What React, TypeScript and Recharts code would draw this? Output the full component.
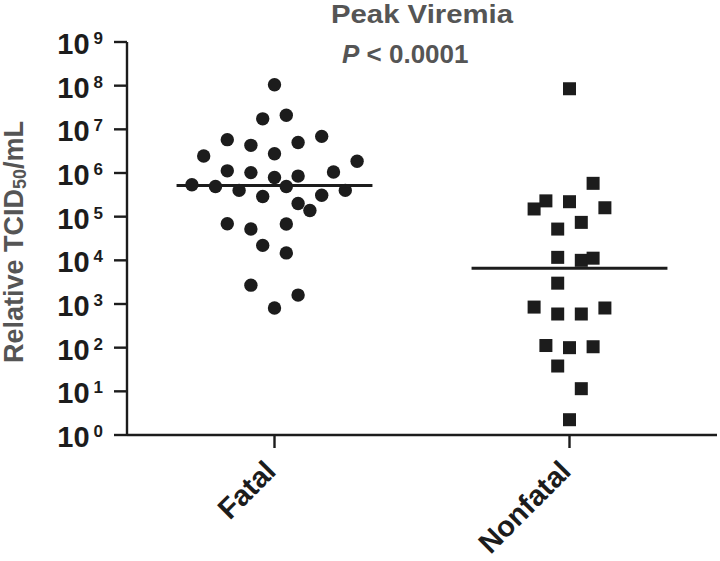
import { ReferenceLine, Scatter, ScatterChart, XAxis, YAxis } from 'recharts';

const groups = ['Fatal', 'Nonfatal'];
const groupPos = [1, 2];

// horizontal jitter (fraction of a category) and titer for each animal
const fatalJitter = [
  0, -0.04, 0.04, -0.16, -0.08, 0.08, 0.16, -0.24, 0, -0.16, -0.08, 0, 0.08, 0.2, 0.28, -0.28,
  -0.2, -0.12, -0.04, 0.04, 0.08, 0.12, 0.16, 0.24, -0.16, -0.08, 0.04, -0.04, 0.04, -0.08, 0.08, 0
];
const fatalTiter = [
  1.05e8, 1.74e7, 2.1e7, 5.8e6, 4.3e6, 5.0e6, 6.9e6, 2.45e6, 2.75e6, 1.12e6, 1.02e6, 7.9e5, 8.5e5, 1.05e6, 1.86e6, 5.4e5,
  4.9e5, 4.0e5, 2.9e5, 4.9e5, 2.0e5, 1.38e5, 3.1e5, 4.0e5, 6.9e4, 5.2e4, 6.8e4, 2.2e4, 1.48e4, 2.7e3, 1.6e3, 8.1e2
];
const nonfatalJitter = [
  0, 0.08, -0.08, -0.12, 0, 0.12, 0.04, -0.04, -0.04, 0.04, 0.08,
  -0.04, -0.12, -0.04, 0.04, 0.12, -0.08, 0, 0.08, -0.04, 0.04, 0
];
const nonfatalTiter = [
  8.5e7, 5.8e5, 2.3e5, 1.5e5, 2.2e5, 1.6e5, 7.4e4, 5.2e4, 1.17e4, 1.0e4, 1.12e4,
  3.0e3, 8.5e2, 5.9e2, 5.9e2, 8.1e2, 112, 100, 105, 38, 11.5, 2.24
];
const medianTiter = [5.2e5, 6.6e3];
const yTicks = [1, 1e1, 1e2, 1e3, 1e4, 1e5, 1e6, 1e7, 1e8, 1e9];

const fatalData = fatalTiter.map((v, i) => ({ x: groupPos[0] + fatalJitter[i], y: v }));
const nonfatalData = nonfatalTiter.map((v, i) => ({ x: groupPos[1] + nonfatalJitter[i], y: v }));

const FONT = '"Liberation Sans", Arial, sans-serif';
const INK = '#1c1c1c';
const GREY = '#555555';
const HALF = 0.332;

const YTick = (props: any) => {
  const { x, y, payload } = props;
  const exp = Math.round(Math.log10(payload.value));
  return (
    <text x={x} y={y + 12} textAnchor="end" fill={INK} fontFamily={FONT} fontWeight="bold">
      <tspan fontSize={29}>10</tspan>
      <tspan fontSize={17} dx={4} dy={-10}>{exp}</tspan>
    </text>
  );
};

const XTick = (props: any) => {
  const { x, y, payload } = props;
  const label = groups[groupPos.indexOf(payload.value)];
  const ax = x + 3;
  const ay = y + 23;
  return (
    <text
      x={ax}
      y={ay}
      transform={`rotate(-45 ${ax} ${ay})`}
      textAnchor="end"
      fill={INK}
      fontFamily={FONT}
      fontWeight="bold"
      fontSize={29}
    >
      {label}
    </text>
  );
};

const Dot = (props: any) => <circle cx={props.cx} cy={props.cy} r={6.7} fill={INK} />;
const Square = (props: any) => <rect x={props.cx - 6.5} y={props.cy - 6.5} width={13} height={13} fill={INK} />;

export default function App() {
  return (
    <div style={{ position: 'absolute', left: 0, top: 0, width: 720, height: 561, background: '#fff' }}>
      <ScatterChart width={720} height={561} margin={{ top: 42, right: 3, bottom: 0, left: 0 }}>
        <XAxis
          type="number"
          dataKey="x"
          domain={[0.5, 2.5]}
          ticks={groupPos}
          height={126}
          tickSize={13}
          tick={<XTick />}
          axisLine={{ stroke: INK, strokeWidth: 2.4 }}
          tickLine={{ stroke: INK, strokeWidth: 2.4 }}
        />
        <YAxis
          type="number"
          dataKey="y"
          scale="log"
          domain={[1, 1e9]}
          ticks={yTicks}
          allowDataOverflow
          width={127}
          tickSize={13}
          tickMargin={11}
          tick={<YTick />}
          axisLine={{ stroke: INK, strokeWidth: 2.4 }}
          tickLine={{ stroke: INK, strokeWidth: 2.4 }}
        />
        <Scatter data={fatalData} shape={Dot} isAnimationActive={false} />
        <Scatter data={nonfatalData} shape={Square} isAnimationActive={false} />
        {medianTiter.map((m, i) => (
          <ReferenceLine
            key={groups[i]}
            segment={[
              { x: groupPos[i] - HALF, y: m },
              { x: groupPos[i] + HALF, y: m }
            ]}
            stroke={INK}
            strokeWidth={3}
            ifOverflow="visible"
          />
        ))}
      </ScatterChart>
      <svg width={720} height={561} style={{ position: 'absolute', left: 0, top: 0, pointerEvents: 'none' }}>
        <text x={331} y={23} fontFamily={FONT} fontWeight="bold" fontSize={26} fill={GREY} textLength={182} lengthAdjust="spacingAndGlyphs">
          Peak Viremia
        </text>
        <text x={342} y={63} fontFamily={FONT} fontWeight="bold" fontSize={26} fill={GREY}>
          <tspan fontStyle="italic">P</tspan>
          <tspan> &lt; 0.0001</tspan>
        </text>
        <text
          x={23}
          y={242}
          transform="rotate(-90 23 242)"
          textAnchor="middle"
          fontFamily={FONT}
          fontWeight="bold"
          fontSize={27}
          fill={GREY}
        >
          <tspan>Relative TCID</tspan>
          <tspan fontSize={18} dy={3}>50</tspan>
          <tspan dy={-3}>/mL</tspan>
        </text>
      </svg>
    </div>
  );
}
